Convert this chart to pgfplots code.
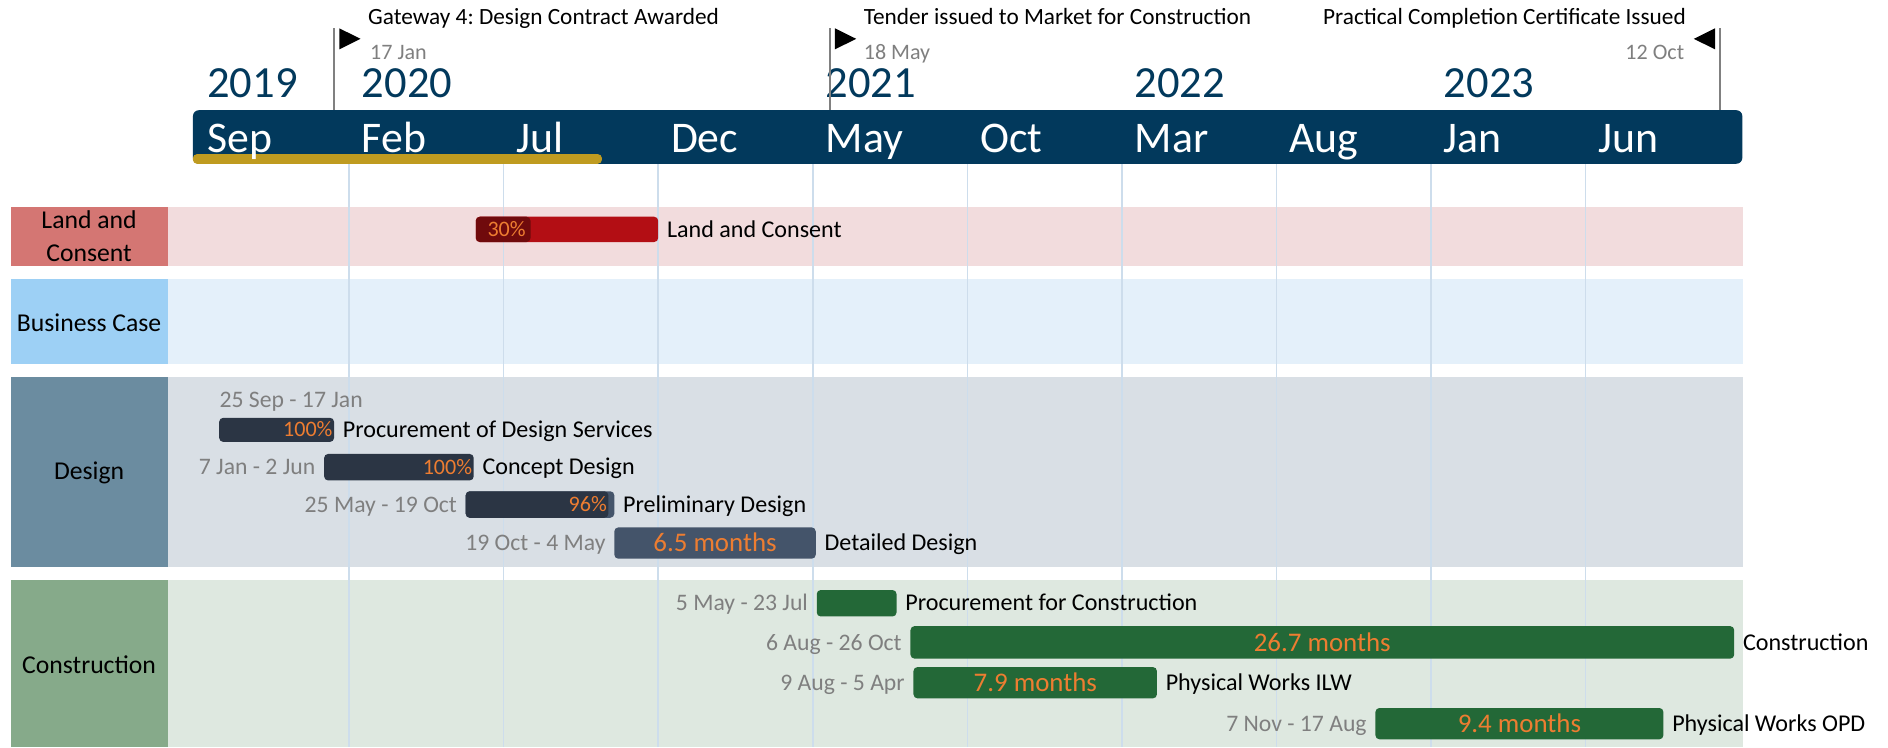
\documentclass[border=0pt]{standalone}
\usepackage{pgfplots}
\pgfplotsset{compat=1.18}
\usepackage{fontspec}
\setmainfont{Carlito}
\frenchspacing

\definecolor{navy}{RGB}{2,57,92}
\definecolor{gold}{RGB}{191,155,32}
\definecolor{msgray}{RGB}{128,128,128}
\definecolor{dategray}{RGB}{127,127,127}
\definecolor{orng}{RGB}{237,125,49}
\definecolor{gridc}{RGB}{205,221,236}
\definecolor{landbox}{RGB}{212,118,115}
\definecolor{landband}{RGB}{242,220,221}
\definecolor{landbar}{RGB}{179,14,20}
\definecolor{landprog}{RGB}{112,10,12}
\definecolor{busbox}{RGB}{157,208,245}
\definecolor{busband}{RGB}{228,240,250}
\definecolor{desbox}{RGB}{107,140,160}
\definecolor{desband}{RGB}{217,223,229}
\definecolor{desdark}{RGB}{43,53,68}
\definecolor{deslight}{RGB}{68,84,106}
\definecolor{conbox}{RGB}{134,170,138}
\definecolor{conband}{RGB}{222,232,224}
\definecolor{conbar}{RGB}{35,104,55}

% x1, x2 (months since 1 Sep 2019), y1, y2 (row position), colour
\newcommand{\gbar}[5]{\addplot[fill=#5, draw=none, rounded corners=2pt, forget plot] coordinates {(#1,#3) (#2,#3) (#2,#4) (#1,#4)} -- cycle;}
\newcommand{\sbar}[5]{\addplot[fill=#5, draw=none, forget plot] coordinates {(#1,#3) (#2,#3) (#2,#4) (#1,#4)} -- cycle;}

\tikzset{
  mlab/.style={inner sep=0pt, font=\fontsize{12}{14}\selectfont, text height=7.7pt, text depth=0pt},
  dlab/.style={inner sep=0pt, font=\fontsize{11.8}{14}\selectfont, text=dategray, text height=7.6pt, text depth=0pt},
  plab/.style={inner sep=0pt, font=\fontsize{11}{13}\selectfont, text=orng, text height=7.1pt, text depth=0pt},
  durlab/.style={inner sep=0pt, font=\fontsize{13.4}{15}\selectfont, text=orng, text height=8.6pt, text depth=0pt},
  catlab/.style={inner sep=0pt, font=\fontsize{12.8}{16.4}\selectfont, align=center},
  monlab/.style={inner sep=0pt, anchor=west, xshift=6.2pt, font=\fontsize{21.8}{24}\selectfont, text=white, text height=14pt, text depth=0pt},
  yrlab/.style={inner sep=0pt, anchor=west, xshift=6.2pt, font=\fontsize{22.2}{24}\selectfont, text=navy, text height=14pt, text depth=0pt},
  mstext/.style={inner sep=0pt, font=\fontsize{11.6}{14}\selectfont, text height=7.5pt, text depth=0pt},
  msdate/.style={inner sep=0pt, font=\fontsize{11}{13}\selectfont, text=dategray, text height=7.1pt, text depth=0pt},
}

\begin{document}
\begin{tikzpicture}
\begin{axis}[
  scale only axis, width=940.8pt, height=372pt,
  xmin=-6.290, xmax=54.781, ymin=0, ymax=620, y dir=reverse,
  hide axis, clip=false,
]
% bounding box
\addplot[draw=none, forget plot] coordinates {(-6.290,0) (54.781,620)};

% category boxes
\sbar{-5.940}{-0.845}{171.7}{221}{landbox}
\sbar{-5.940}{-0.845}{231.7}{302.3}{busbox}
\sbar{-5.940}{-0.845}{313}{470.5}{desbox}
\sbar{-5.940}{-0.845}{482}{620}{conbox}
% bands
\sbar{-0.845}{50.088}{171.7}{221}{landband}
\sbar{-0.845}{50.088}{231.7}{302.3}{busband}
\sbar{-0.845}{50.088}{313}{470.5}{desband}
\sbar{-0.845}{50.088}{482}{620}{conband}

% grid lines every 5 months
\addplot[gridc, line width=0.75pt, forget plot] coordinates {(5,136) (5,620)};
\addplot[gridc, line width=0.75pt, forget plot] coordinates {(10,136) (10,620)};
\addplot[gridc, line width=0.75pt, forget plot] coordinates {(15,136) (15,620)};
\addplot[gridc, line width=0.75pt, forget plot] coordinates {(20,136) (20,620)};
\addplot[gridc, line width=0.75pt, forget plot] coordinates {(25,136) (25,620)};
\addplot[gridc, line width=0.75pt, forget plot] coordinates {(30,136) (30,620)};
\addplot[gridc, line width=0.75pt, forget plot] coordinates {(35,136) (35,620)};
\addplot[gridc, line width=0.75pt, forget plot] coordinates {(40,136) (40,620)};
\addplot[gridc, line width=0.75pt, forget plot] coordinates {(45,136) (45,620)};

% timeline
\addplot[fill=navy, draw=none, rounded corners=3pt, forget plot] coordinates {(-0.05,91.5) (50.07,91.5) (50.07,136) (-0.05,136)} -- cycle;
\addplot[fill=gold, draw=none, rounded corners=2pt, forget plot] coordinates {(-0.05,128) (13.18,128) (13.18,136) (-0.05,136)} -- cycle;

\node[monlab] at (axis cs:0,115) {Sep};
\node[monlab] at (axis cs:5,115) {Feb};
\node[monlab] at (axis cs:10,115) {Jul};
\node[monlab] at (axis cs:15,115) {Dec};
\node[monlab] at (axis cs:20,115) {May};
\node[monlab] at (axis cs:25,115) {Oct};
\node[monlab] at (axis cs:30,115) {Mar};
\node[monlab] at (axis cs:35,115) {Aug};
\node[monlab] at (axis cs:40,115) {Jan};
\node[monlab] at (axis cs:45,115) {Jun};

\node[yrlab] at (axis cs:0,69) {2019};
\node[yrlab] at (axis cs:5,69) {2020};
\node[yrlab] at (axis cs:20,69) {2021};
\node[yrlab] at (axis cs:30,69) {2022};
\node[yrlab] at (axis cs:40,69) {2023};

% milestones: 17 Jan 2020, 18 May 2021, 12 Oct 2023
\addplot[msgray, line width=0.85pt, forget plot] coordinates {(4.516,23.5) (4.516,91.5)};
\addplot[msgray, line width=0.85pt, forget plot] coordinates {(20.548,23.5) (20.548,91.5)};
\addplot[msgray, line width=0.85pt, forget plot] coordinates {(49.355,23.5) (49.355,91.5)};
\addplot[fill=black, draw=none, forget plot] coordinates {(4.684,23.5) (5.373,32.25) (4.684,41)} -- cycle;
\addplot[fill=black, draw=none, forget plot] coordinates {(20.716,23.5) (21.405,32.25) (20.716,41)} -- cycle;
\addplot[fill=black, draw=none, forget plot] coordinates {(49.188,23.5) (48.499,32.25) (49.188,41)} -- cycle;
\node[mstext, anchor=west, xshift=16.8pt] at (axis cs:4.516,14) {Gateway 4: Design Contract Awarded};
\node[msdate, anchor=west, xshift=17.8pt] at (axis cs:4.516,43.2) {17 Jan};
\node[mstext, anchor=west, xshift=16.8pt] at (axis cs:20.548,14) {Tender issued to Market for Construction};
\node[msdate, anchor=west, xshift=16.8pt] at (axis cs:20.548,43.2) {18 May};
\node[mstext, anchor=east, xshift=-17pt] at (axis cs:49.355,14) {Practical Completion Certificate Issued};
\node[msdate, anchor=east, xshift=-17.8pt] at (axis cs:49.355,43.2) {12 Oct};

% category labels
\node[catlab] at (axis cs:-3.408,196.5) {Land and\\Consent};
\node[catlab] at (axis cs:-3.408,268) {Business Case};
\node[catlab] at (axis cs:-3.408,393) {Design};
\node[catlab] at (axis cs:-3.408,552) {Construction};

% ---- Land and Consent (30%)
\gbar{9.10}{15.00}{180}{201}{landbar}
\gbar{9.10}{10.87}{180}{201}{landprog}
\node[plab, anchor=east, xshift=-2.2pt] at (axis cs:10.87,190.5) {30\%};
\node[mlab, anchor=west, xshift=4.2pt] at (axis cs:15.00,190.5) {Land and Consent};

% ---- Design
\gbar{0.800}{4.516}{347}{367}{desdark}
\node[plab, anchor=east, xshift=-0.6pt] at (axis cs:4.516,357) {100\%};
\node[mlab, anchor=west, xshift=4.2pt] at (axis cs:4.516,357) {Procurement of Design Services};
\node[dlab, anchor=west, xshift=0pt] at (axis cs:0.800,332) {25 Sep - 17 Jan};

\gbar{4.194}{9.033}{377}{399}{desdark}
\node[plab, anchor=east, xshift=-0.6pt] at (axis cs:9.033,388) {100\%};
\node[mlab, anchor=west, xshift=4.2pt] at (axis cs:9.033,388) {Concept Design};
\node[dlab, anchor=east, xshift=-4.2pt] at (axis cs:4.194,388) {7 Jan - 2 Jun};

\gbar{8.774}{13.581}{408}{430}{deslight}
\gbar{8.774}{13.389}{408}{430}{desdark}
\node[plab, anchor=east, xshift=-0.6pt] at (axis cs:13.389,419) {96\%};
\node[mlab, anchor=west, xshift=4.2pt] at (axis cs:13.581,419) {Preliminary Design};
\node[dlab, anchor=east, xshift=-4.2pt] at (axis cs:8.774,419) {25 May - 19 Oct};

\gbar{13.581}{20.097}{438}{464}{deslight}
\node[durlab] at (axis cs:16.839,451) {6.5 months};
\node[mlab, anchor=west, xshift=4.2pt] at (axis cs:20.097,451) {Detailed Design};
\node[dlab, anchor=east, xshift=-4.2pt] at (axis cs:13.581,451) {19 Oct - 4 May};

% ---- Construction
\gbar{20.129}{22.710}{490}{512}{conbar}
\node[mlab, anchor=west, xshift=4.2pt] at (axis cs:22.710,501) {Procurement for Construction};
\node[dlab, anchor=east, xshift=-4.2pt] at (axis cs:20.129,501) {5 May - 23 Jul};

\gbar{23.161}{49.806}{520}{547}{conbar}
\node[durlab] at (axis cs:36.48,533.5) {26.7 months};
\node[mlab, anchor=west, xshift=4.2pt] at (axis cs:49.806,533.5) {Construction};
\node[dlab, anchor=east, xshift=-4.2pt] at (axis cs:23.161,533.5) {6 Aug - 26 Oct};

\gbar{23.258}{31.133}{554}{580}{conbar}
\node[durlab] at (axis cs:27.20,567) {7.9 months};
\node[mlab, anchor=west, xshift=4.2pt] at (axis cs:31.133,567) {Physical Works ILW};
\node[dlab, anchor=east, xshift=-4.2pt] at (axis cs:23.258,567) {9 Aug - 5 Apr};

\gbar{38.200}{47.516}{588}{614}{conbar}
\node[durlab] at (axis cs:42.86,601) {9.4 months};
\node[mlab, anchor=west, xshift=4.2pt] at (axis cs:47.516,601) {Physical Works OPD};
\node[dlab, anchor=east, xshift=-4.2pt] at (axis cs:38.200,601) {7 Nov - 17 Aug};
\end{axis}
\end{tikzpicture}
\end{document}
